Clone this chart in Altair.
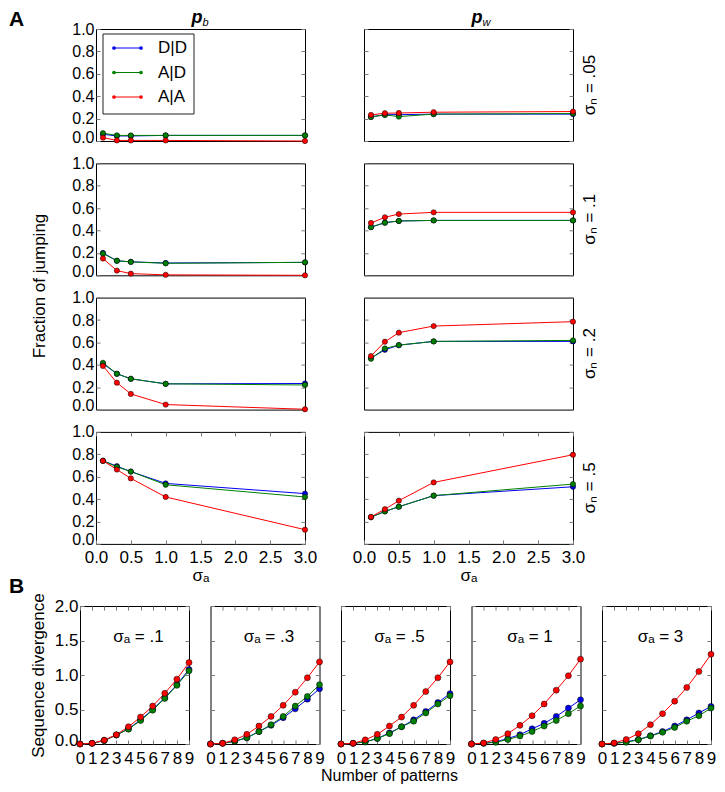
import altair as alt
import pandas as pd

FONT = "Liberation Sans"
SERIES = ["D|D", "A|D", "A|A"]
COLORS = ["#0000ee", "#008000", "#ff0000"]

# ---- Part A data: fraction of jumping vs sigma_a ----
SIGMA_A = [0.1, 0.3, 0.5, 1.0, 3.0]
SIGMA_N_LABELS = [".05", ".1", ".2", ".5"]

PB_05 = {"D|D": [0.06, 0.045, 0.045, 0.05, 0.05],
         "A|D": [0.07, 0.05, 0.05, 0.05, 0.05],
         "A|A": [0.03, 0.005, 0.005, 0.005, 0.0]}
PW_05 = {"D|D": [0.215, 0.235, 0.235, 0.24, 0.24],
         "A|D": [0.215, 0.233, 0.218, 0.24, 0.245],
         "A|A": [0.233, 0.248, 0.25, 0.257, 0.263]}
PB_1 = {"D|D": [0.20, 0.13, 0.12, 0.11, 0.115],
        "A|D": [0.194, 0.13, 0.12, 0.107, 0.116],
        "A|A": [0.15, 0.042, 0.015, 0.004, 0.0]}
PW_1 = {"D|D": [0.43, 0.47, 0.485, 0.49, 0.49],
        "A|D": [0.43, 0.47, 0.485, 0.49, 0.49],
        "A|A": [0.467, 0.518, 0.547, 0.562, 0.562]}
PB_2 = {"D|D": [0.41, 0.32, 0.275, 0.23, 0.233],
        "A|D": [0.418, 0.32, 0.275, 0.23, 0.22],
        "A|A": [0.39, 0.24, 0.14, 0.045, 0.003]}
PW_2 = {"D|D": [0.46, 0.534, 0.575, 0.609, 0.609],
        "A|D": [0.454, 0.546, 0.576, 0.609, 0.618],
        "A|A": [0.478, 0.606, 0.687, 0.746, 0.785]}
PB_5 = {"D|D": [0.742, 0.694, 0.646, 0.54, 0.449],
        "A|D": [0.742, 0.688, 0.646, 0.528, 0.419],
        "A|A": [0.742, 0.664, 0.585, 0.419, 0.127]}
PW_5 = {"D|D": [0.238, 0.29, 0.332, 0.431, 0.51],
        "A|D": [0.238, 0.29, 0.332, 0.431, 0.534],
        "A|A": [0.241, 0.31, 0.386, 0.549, 0.796]}
PB = [PB_05, PB_1, PB_2, PB_5]
PW = [PW_05, PW_1, PW_2, PW_5]

# ---- Part B data: sequence divergence vs number of patterns ----
N_PATTERNS = list(range(10))
B_LABELS = [".1", ".3", ".5", "1", "3"]
B_01 = {"D|D": [0, 0.01, 0.05, 0.13, 0.22, 0.35, 0.50, 0.67, 0.86, 1.08],
        "A|D": [0, 0.01, 0.05, 0.13, 0.215, 0.34, 0.49, 0.66, 0.85, 1.06],
        "A|A": [0, 0.01, 0.056, 0.135, 0.25, 0.39, 0.55, 0.735, 0.94, 1.18]}
B_03 = {"D|D": [0, 0.01, 0.04, 0.09, 0.18, 0.27, 0.38, 0.51, 0.65, 0.80],
        "A|D": [0, 0.01, 0.04, 0.09, 0.18, 0.28, 0.40, 0.55, 0.69, 0.86],
        "A|A": [0, 0.01, 0.06, 0.14, 0.26, 0.40, 0.56, 0.75, 0.96, 1.19]}
B_05 = {"D|D": [0, 0.01, 0.03, 0.08, 0.16, 0.25, 0.35, 0.47, 0.60, 0.73],
        "A|D": [0, 0.01, 0.03, 0.08, 0.15, 0.25, 0.33, 0.45, 0.58, 0.70],
        "A|A": [0, 0.01, 0.06, 0.14, 0.26, 0.39, 0.56, 0.76, 0.96, 1.19]}
B_1 = {"D|D": [0, 0.01, 0.03, 0.08, 0.135, 0.22, 0.30, 0.40, 0.52, 0.64],
       "A|D": [0, 0.01, 0.025, 0.065, 0.115, 0.18, 0.26, 0.34, 0.44, 0.55],
       "A|A": [0, 0.015, 0.065, 0.15, 0.27, 0.41, 0.58, 0.78, 0.99, 1.23]}
B_3 = {"D|D": [0, 0.01, 0.03, 0.065, 0.12, 0.18, 0.26, 0.35, 0.45, 0.545],
       "A|D": [0, 0.01, 0.025, 0.06, 0.115, 0.17, 0.24, 0.33, 0.41, 0.52],
       "A|A": [0, 0.015, 0.065, 0.15, 0.28, 0.44, 0.62, 0.82, 1.05, 1.30]}
B = [B_01, B_03, B_05, B_1, B_3]

A_X_TICKS = [0.0, 0.5, 1.0, 1.5, 2.0, 2.5, 3.0]
A_Y_TICKS = [0.0, 0.2, 0.4, 0.6, 0.8, 1.0]
B_X_TICKS = list(range(10))
B_Y_TICKS = [0.0, 0.5, 1.0, 1.5, 2.0]

AW, AH = 209, 112
BW, BH = 109, 138

COLOR = alt.Color("series:N", scale=alt.Scale(domain=SERIES, range=COLORS), legend=None)
TITLE_KW = dict(titleFont=FONT, titleFontSize=17, titleFontWeight="normal", titleColor="black")
ZERO_LIFT = {"condition": {"test": "datum.value === 0", "value": -4}, "value": 0}


def to_long(xs, d):
    return pd.DataFrame([{"x": x, "y": v, "series": s}
                         for s in SERIES for x, v in zip(xs, d[s])])


def axis(orient, values, labels=False, fmt=None, title=None, **extra):
    kw = dict(orient=orient, values=values, domain=False, grid=False, ticks=True,
              tickSize=4, offset=-4, tickColor="#7a7a7a", tickWidth=1,
              labels=labels, title=title)
    if labels:
        kw.update(labelFont=FONT, labelFontSize=17, labelColor="black",
                  labelFlush=False, labelOverlap=False,
                  labelPadding=6 if orient in ("bottom", "top") else 2)
        if fmt:
            kw["format"] = fmt
    if title:
        kw.update(TITLE_KW)
    kw.update(extra)
    return alt.Axis(**kw)


def data_layers(df, xdom, ydom, xb, xt, yl, yr, size):
    xs = alt.Scale(domain=xdom, nice=False, zero=False)
    ys = alt.Scale(domain=ydom, nice=False, zero=False)
    base = alt.Chart(df)
    line = base.mark_line(strokeWidth=1).encode(
        x=alt.X("x:Q", scale=xs, axis=xb),
        y=alt.Y("y:Q", scale=ys, axis=yl),
        color=COLOR)
    pts = base.mark_circle(size=size, opacity=1, stroke="black", strokeWidth=0.5).encode(
        x=alt.X("x:Q", scale=xs, axis=xt),
        y=alt.Y("y:Q", scale=ys, axis=yr),
        color=COLOR)
    return [line, pts]


def label(text, x, y, size=16, baseline="alphabetic", **kw):
    return alt.Chart(pd.DataFrame({"t": [text]})).mark_text(
        font=FONT, fontSize=size, color="black", baseline=baseline, **kw).encode(
        text="t:N", x=alt.value(x), y=alt.value(y))


def legend_layers():
    leg_df = pd.DataFrame({"series": SERIES})
    leg_y = alt.Y("series:N", axis=None,
                  scale=alt.Scale(domain=SERIES, type="point", range=[19, 68], padding=0))
    box = alt.Chart(pd.DataFrame({"k": [0]})).mark_rect(
        fill="white", stroke="#222222", strokeWidth=1).encode(
        x=alt.value(7), x2=alt.value(98), y=alt.value(5), y2=alt.value(85))
    ln = alt.Chart(leg_df).mark_rule(strokeWidth=1).encode(
        x=alt.value(18), x2=alt.value(45), y=leg_y, color=COLOR)
    p1 = alt.Chart(leg_df).mark_circle(size=14, opacity=1).encode(
        x=alt.value(18), y=leg_y, color=COLOR)
    p2 = alt.Chart(leg_df).mark_circle(size=14, opacity=1).encode(
        x=alt.value(45), y=leg_y, color=COLOR)
    tx = alt.Chart(leg_df).mark_text(align="left", baseline="middle", font=FONT,
                                     fontSize=17, color="black").encode(
        x=alt.value(62), y=leg_y, text="series:N")
    return [box, ln, p1, p2, tx]


def finish(layers, w, h):
    return (alt.layer(*layers)
            .resolve_scale(y="independent")
            .resolve_axis(x="independent", y="independent")
            .properties(width=w, height=h))


a_panels = []
for r in range(4):
    for c in range(2):
        d = PB[r] if c == 0 else PW[r]
        df = to_long(SIGMA_A, d)
        if r == 3:
            xb = axis("bottom", A_X_TICKS, labels=True, fmt=".1f", title="σₐ", titlePadding=2)
            xt = axis("top", A_X_TICKS)
        else:
            xb = None
            xt = None
        if c == 0:
            yl = axis("left", A_Y_TICKS, labels=True, fmt=".1f", labelFontSize=16,
                      labelOffset=ZERO_LIFT)
        else:
            yl = axis("left", A_Y_TICKS)
        yr = axis("right", A_Y_TICKS)
        layers = data_layers(df, [0, 3], [0, 1], xb, xt, yl, yr, 28)
        if c == 0 and r == 0:
            layers += legend_layers()
            layers.append(label("A", -87, -3, size=21, fontWeight="bold", align="left"))
            layers.append(label("p", AW / 2 + 2, -6, size=18, fontStyle="italic",
                                fontWeight="bold", align="right"))
            layers.append(label("b", AW / 2 + 2, -3, size=11, fontStyle="italic", align="left"))
            layers.append(label("Fraction of jumping", -47, 257, size=17, angle=270,
                                align="center", baseline="bottom"))
        if c == 1 and r == 0:
            layers.append(label("p", AW / 2 + 14, -6, size=18, fontStyle="italic",
                                fontWeight="bold", align="right"))
            layers.append(label("w", AW / 2 + 14, -3, size=11, fontStyle="italic", align="left"))
        if c == 1:
            layers.append(label("σₙ = " + SIGMA_N_LABELS[r], AW + 17, AH / 2, size=17,
                                angle=270, align="center", baseline="middle"))
        a_panels.append(finish(layers, AW, AH))

b_panels = []
for i in range(5):
    df = to_long(N_PATTERNS, B[i])
    if i == 0:
        yl = axis("left", B_Y_TICKS, labels=True, fmt=".1f", title="Sequence divergence",
                  titlePadding=7, labelOffset=ZERO_LIFT)
    else:
        yl = axis("left", B_Y_TICKS)
    if i == 2:
        xb = axis("bottom", B_X_TICKS, labels=True, fmt="d", title="Number of patterns",
                  titlePadding=1, titleX=48, titleFontSize=16)
    else:
        xb = axis("bottom", B_X_TICKS, labels=True, fmt="d")
    xt = axis("top", B_X_TICKS)
    yr = axis("right", B_Y_TICKS)
    layers = data_layers(df, [0, 9], [0, 2], xb, xt, yl, yr, 36)
    layers.append(label("σₐ = " + B_LABELS[i], BW / 2 + 4, 36, size=17, align="center"))
    if i == 0:
        layers.append(label("B", -71, -13, size=21, fontWeight="bold", align="left"))
    b_panels.append(finish(layers, BW, BH))

spacer = (alt.Chart(pd.DataFrame({"k": [0]}))
          .mark_point(opacity=0)
          .encode(x=alt.value(0), y=alt.value(0))
          .properties(width=1, height=1, view=alt.ViewBackground(stroke="transparent")))

part_a_grid = alt.concat(*a_panels, columns=2, spacing={"row": 22.3, "column": 59},
                         bounds="flush")
part_a = alt.concat(spacer, part_a_grid, columns=2, spacing=15, bounds="flush", align="each")
part_b = alt.hconcat(*b_panels, spacing=21.5, bounds="flush")

chart = (alt.vconcat(part_a, part_b, spacing=-10)
         .properties(padding=0)
         .configure(font=FONT, background="white")
         .configure_view(stroke="black", strokeWidth=1))

chart.save("out.html", embed_options={"renderer": "svg", "actions": False})
